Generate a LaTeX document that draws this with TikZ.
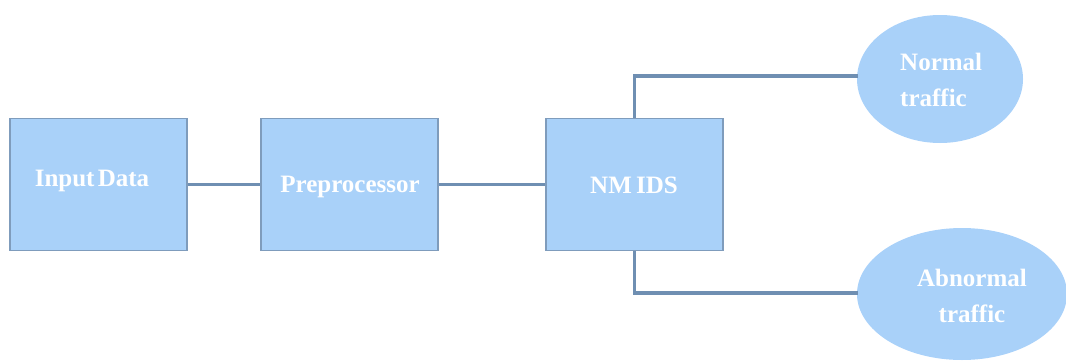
\documentclass[tikz,border=0pt]{standalone}
\usepackage{fontspec}
\setmainfont{Liberation Serif}
\begin{document}
\begin{tikzpicture}[x=1pt,y=-1pt,
  boxstyle/.style={draw=boxedge, fill=boxfill, line width=1.8pt, minimum width=177pt, minimum height=132pt, inner sep=0pt},
  lbl/.style={text=white, font=\fontsize{25}{36}\selectfont\bfseries},
  link/.style={draw=linecol, line width=3.3pt}]
\definecolor{boxfill}{HTML}{A9D1F9}
\definecolor{boxedge}{HTML}{7F9CBC}
\definecolor{linecol}{HTML}{6F8FB2}
\useasboundingbox (0,0) rectangle (1066,362);
\node[boxstyle] (input) at (98.5,184.5) {};
\node[boxstyle] (pre) at (349.5,184.5) {};
\node[boxstyle] (nm) at (634.5,184.5) {};
\draw[link] (input.east) -- (pre.west);
\draw[link] (pre.east) -- (nm.west);
\fill[boxfill] (940,79) ellipse [x radius=83, y radius=64];
\fill[boxfill] (962,294) ellipse [x radius=105, y radius=66];
\coordinate (normal) at (858,76);
\coordinate (abnormal) at (858,293);
\draw[link] (nm.north) |- (normal);
\draw[link] (nm.south) |- (abnormal);
\node[lbl] (t1) at (92,181) {Input\hspace{-3pt} Data};
\node[lbl] (t2) at (350,187) {Preprocessor};
\node[lbl] (t3) at (634,185) {NM\hspace{-2pt} IDS};
\node[lbl, align=left, anchor=west, inner sep=0pt] (t4) at (900,80) {Normal\\traffic};
\node[lbl, align=center, inner sep=0pt] (t5) at (972,296) {Abnormal\\traffic};
\end{tikzpicture}
\end{document}
